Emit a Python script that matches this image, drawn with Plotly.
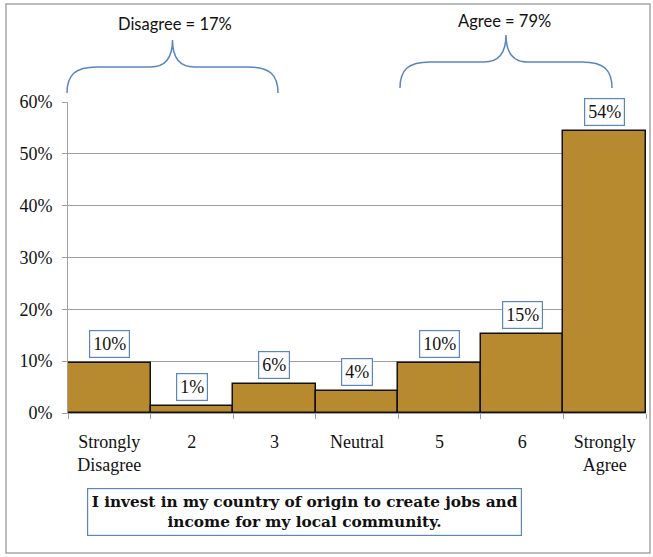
import plotly.graph_objects as go

categories = ["Strongly<br>Disagree", "2", "3", "Neutral", "5", "6", "Strongly<br>Agree"]
values = [0.097, 0.013, 0.056, 0.042, 0.097, 0.153, 0.544]
labels = ["10%", "1%", "6%", "4%", "10%", "15%", "54%"]
group_labels = ["Disagree = 17%", "Agree = 79%"]
title_text = "I invest in my country of origin to create jobs and<br>income for my local community."

W, H = 653, 557
L, R, T, B = 68, 646, 102, 413

def px(x):
    return (x - L) / (R - L)

def py(y):
    return (B - y) / (B - T)

SERIF = "Liberation Serif"
BLUE = "#5a86c0"

fig = go.Figure()
fig.add_trace(go.Bar(
    x=list(range(len(categories))), y=values,
    marker=dict(color="#B88A30", line=dict(color="#111111", width=1.5)),
    hoverinfo="skip",
))

annotations = []
for i, (v, t) in enumerate(zip(values, labels)):
    annotations.append(dict(
        x=i, y=v, xref="x", yref="y", text=t, showarrow=False,
        xanchor="center", yanchor="bottom", yshift=5,
        font=dict(family=SERIF, size=18, color="#111111"),
        bgcolor="white", bordercolor=BLUE, borderwidth=1.2, borderpad=3,
    ))

def brace(x0, x1, ybot, ymid, ytip):
    xm = (x0 + x1) / 2
    def P(x, y):
        return f"{px(x):.5f},{py(y):.5f}"
    path = (f"M {P(x0, ybot)} C {P(x0, ymid+8)} {P(x0+8, ymid)} {P(x0+30, ymid)} "
            f"L {P(xm-22, ymid)} C {P(xm-8, ymid)} {P(xm, ymid-8)} {P(xm, ytip)} "
            f"C {P(xm, ymid-8)} {P(xm+8, ymid)} {P(xm+22, ymid)} "
            f"L {P(x1-30, ymid)} C {P(x1-8, ymid)} {P(x1, ymid+8)} {P(x1, ybot)}")
    return dict(type="path", path=path, xref="paper", yref="paper",
                line=dict(color=BLUE, width=1.5))

shapes = [
    brace(67, 278, 93, 67, 40),
    brace(400, 612, 88, 62, 35),
    dict(type="rect", xref="paper", yref="paper",
         x0=px(6), x1=px(650), y0=py(553), y1=py(4),
         line=dict(color="#a6a6a6", width=1.5), layer="below"),
]

annotations.append(dict(x=px(175), y=py(24), xref="paper", yref="paper",
                        xanchor="center", yanchor="middle",
                        text=group_labels[0], showarrow=False,
                        font=dict(family="Lato", size=16.5, color="#111111")))
annotations.append(dict(x=px(504), y=py(21), xref="paper", yref="paper",
                        xanchor="center", yanchor="middle",
                        text=group_labels[1], showarrow=False,
                        font=dict(family="Lato", size=16.5, color="#111111")))
annotations.append(dict(x=px(304.5), y=py(512), xref="paper", yref="paper",
                        xanchor="center", yanchor="middle",
                        text="<b>" + title_text + "</b>", showarrow=False,
                        font=dict(family="DejaVu Serif", size=15.3, color="#111111"),
                        bgcolor="white", bordercolor=BLUE, borderwidth=1.2,
                        borderpad=0, width=433, height=46))

fig.update_layout(
    width=W, height=H,
    margin=dict(l=L, r=W - R, t=T, b=H - B),
    paper_bgcolor="white", plot_bgcolor="white",
    bargap=0, showlegend=False,
    shapes=shapes, annotations=annotations,
    font=dict(family=SERIF, color="#111111"),
)
fig.update_xaxes(
    range=[-0.5, len(categories) - 0.5],
    tickmode="array", tickvals=list(range(len(categories))), ticktext=categories,
    ticks="", showline=True, linecolor="#a0a0a0", linewidth=1,
    tickfont=dict(family=SERIF, size=18, color="#111111"),
    ticklabelstandoff=12,
    showgrid=False, zeroline=False,
    minor=dict(tickmode="array", tickvals=[i - 0.5 for i in range(len(categories) + 1)],
               ticks="outside", ticklen=5, tickcolor="#a0a0a0"),
)
fig.update_yaxes(
    range=[0, 0.6], dtick=0.1, tickformat=".0%",
    showgrid=True, gridcolor="#a0a0a0", gridwidth=1,
    showline=True, linecolor="#a0a0a0", linewidth=1,
    ticks="outside", ticklen=5, tickcolor="#a0a0a0",
    tickfont=dict(family=SERIF, size=18, color="#111111"),
    ticklabelstandoff=6,
    zeroline=False,
)

fig.write_html("out.html", config={"displayModeBar": False},
               post_script="document.body.style.margin='0';")
